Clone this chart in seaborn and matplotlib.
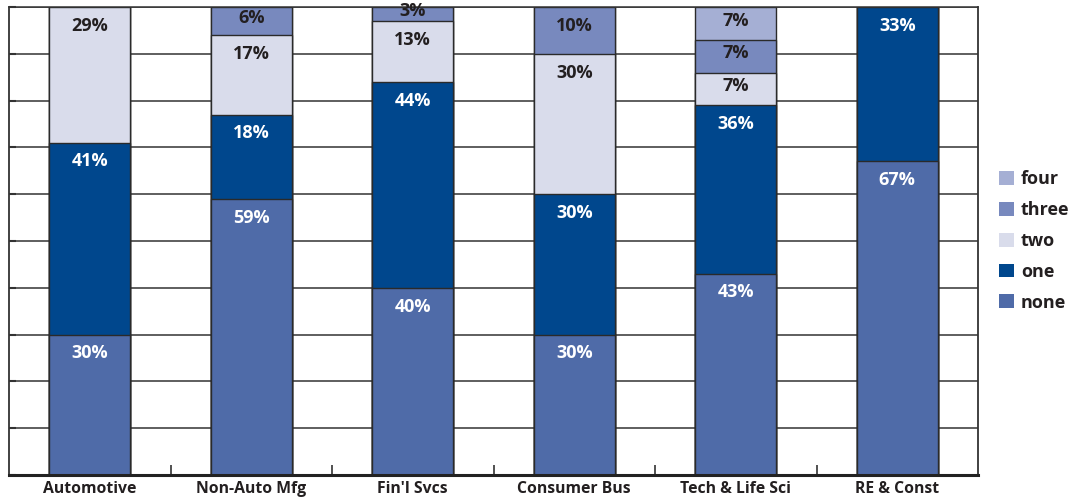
import matplotlib
matplotlib.use("Agg")
import matplotlib.pyplot as plt
import seaborn as sns
import numpy as np
import pandas as pd
from matplotlib.patches import Patch

categories = ["Automotive", "Non-Auto Mfg", "Fin'l Svcs", "Consumer Bus", "Tech & Life Sci", "RE & Const"]
series_names = ["none", "one", "two", "three", "four"]
none_vals = [30, 59, 40, 30, 43, 67]
one_vals = [41, 18, 44, 30, 36, 33]
two_vals = [29, 17, 13, 30, 7, 0]
three_vals = [0, 6, 3, 10, 7, 0]
four_vals = [0, 0, 0, 0, 7, 0]

colors = {"none": "#4F6BA8", "one": "#00478D", "two": "#D9DCEB",
          "three": "#7889BE", "four": "#A5AFD4"}
label_colors = {"none": "white", "one": "white", "two": "#231F20",
                "three": "#231F20", "four": "#231F20"}

sns.set_theme(style="white")
plt.rcParams['font.family'] = ['Open Sans', 'DejaVu Sans']

vals = {"none": none_vals, "one": one_vals, "two": two_vals,
        "three": three_vals, "four": four_vals}
df = pd.DataFrame(vals, index=categories)
cum = df.cumsum(axis=1)

fig = plt.figure(figsize=(10.7, 4.99), dpi=100)
ax = fig.add_axes([9/1070, 1 - 475/499, (978 - 9)/1070, (475 - 7)/499])

# gridlines
for yv in np.arange(10, 101, 10):
    ax.axhline(yv, color="#333333", lw=1.1, zorder=0)

# stacked bars: draw from the top layer down
for name in reversed(series_names):
    d = pd.DataFrame({"cat": categories, "val": cum[name].values})
    sns.barplot(data=d, x="cat", y="val", color=colors[name], width=0.5,
                edgecolor="#2a2a2a", linewidth=1.0, saturation=1, ax=ax,
                order=categories, zorder=2)

# labels
for i, cat in enumerate(categories):
    for name in series_names:
        v = df.loc[cat, name]
        if v <= 0:
            continue
        top = cum.loc[cat, name]
        off = min(4.0, v / 2 - 0.6)
        ax.text(i, top - off, f"{v}%", ha="center", va="center",
                fontsize=13, fontweight="bold", color=label_colors[name], zorder=5)

ax.set_xlim(-0.5, 5.5)
ax.set_ylim(0, 100)
ax.set_xlabel("")
ax.set_ylabel("")
ax.set_yticks(np.arange(0, 101, 10))
ax.tick_params(axis="y", direction="in", length=5, width=1.5, color="#333333",
               labelleft=False, left=True)
ax.set_xticks(range(len(categories)))
ax.set_xticklabels(categories, fontsize=11.3, fontweight="bold", color="#231F20")
ax.tick_params(axis="x", which="major", length=0, pad=4)
ax.set_xticks(np.arange(0.5, 5.0, 1.0), minor=True)
ax.tick_params(axis="x", which="minor", direction="in", length=7, width=1.2,
               color="#333333", bottom=True)

for s in ["left", "right", "top"]:
    ax.spines[s].set_visible(True)
    ax.spines[s].set_color("#333333")
    ax.spines[s].set_linewidth(1.3)
ax.spines["bottom"].set_color("#222222")
ax.spines["bottom"].set_linewidth(2.2)
ax.spines["top"].set_linewidth(1.1)

handles = [Patch(facecolor=colors[n], edgecolor="none", label=n)
           for n in reversed(series_names)]
leg = fig.legend(handles=handles, loc="upper left", bbox_to_anchor=(983/1070, 1 - 154/499),
                 frameon=False, handlelength=0.8, handleheight=0.8, handletextpad=0.4,
                 labelspacing=0.71, prop={"size": 13, "weight": "bold"})
for t in leg.get_texts():
    t.set_color("#231F20")

fig.savefig("out.png", dpi=100)
